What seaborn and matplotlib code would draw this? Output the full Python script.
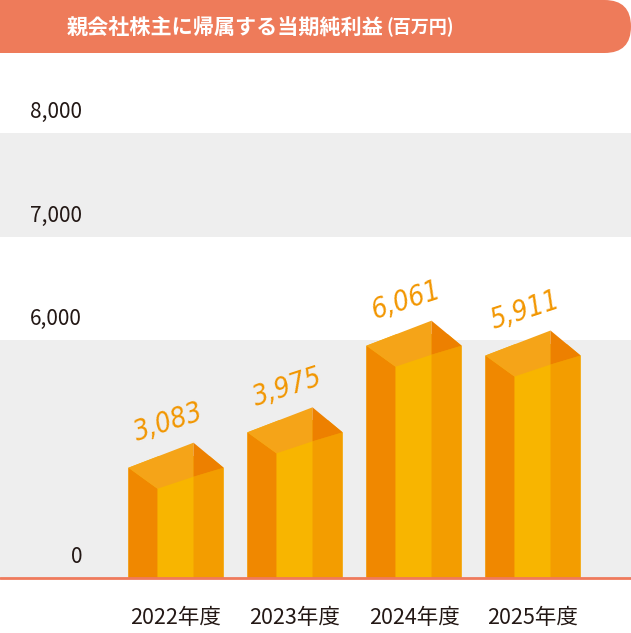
import numpy as np
import pandas as pd
import seaborn as sns
import matplotlib
matplotlib.use("Agg")
import matplotlib.pyplot as plt
from matplotlib.patches import Polygon, FancyBboxPatch

# ---- data ----
years = ["2022年度", "2023年度", "2024年度", "2025年度"]
profits = [3083, 3975, 6061, 5911]
value_labels = ["3,083", "3,975", "6,061", "5,911"]
tick_values = [0, 6000, 7000, 8000]
tick_labels = ["0", "6,000", "7,000", "8,000"]
title_main = "親会社株主に帰属する当期純利益"
title_unit = "(百万円)"

df = pd.DataFrame({"year": years, "profit": profits})

sns.set_theme(style="white")
plt.rcParams["font.family"] = ["Noto Sans CJK JP", "DejaVu Sans"]

W, H = 631, 633
fig = plt.figure(figsize=(W / 100, H / 100), dpi=100)
fig.patch.set_facecolor("white")
base_px, top_px = 578, 60
ax = fig.add_axes([0, (H - base_px) / H, 1, (base_px - top_px) / H])
ax.set_facecolor("white")

# broken (piecewise) value scale: compressed 0-6000, expanded above
LOW_PX, UP_PX = 238.0, 0.1035


def fwd(v):
    v = np.asarray(v, float)
    return np.where(v <= 6000, v * LOW_PX / 6000, LOW_PX + (v - 6000) * UP_PX)


def inv(p):
    p = np.asarray(p, float)
    return np.where(p <= LOW_PX, p * 6000 / LOW_PX, 6000 + (p - LOW_PX) / UP_PX)


ax.set_yscale("function", functions=(fwd, inv))

MID = "#F8B500"
LEFT = "#F08800"
RIGHT = "#F39D00"
TOPL = "#F5A418"
TOPR = "#ED8000"
GRAY = "#EEEEEE"
RED = "#EF7A5C"
TXT = "#231815"
ORANGE = "#F29600"

sns.barplot(data=df, x="year", y="profit", color=MID, saturation=1,
            width=0.8, ax=ax, zorder=2, linewidth=0)
bars = list(ax.patches)

ax.set_xlim(-176 / 119, (631 - 176) / 119)
ax.set_ylim(0, float(inv(base_px - top_px)))

ax.axhspan(7000, 8000, color=GRAY, zorder=0, lw=0)
ax.axhspan(0, 6000, color=GRAY, zorder=0, lw=0)

for s in ax.spines.values():
    s.set_visible(False)
ax.set_yticks([])
ax.set_xlabel("")
ax.set_ylabel("")
ax.tick_params(axis="x", length=0, pad=21, labelsize=15.5, labelcolor=TXT)

ax.axhline(0, color=RED, lw=2, clip_on=False, zorder=6)

# 3D box faces derived from each bar (value sits mid-way up the top face)
fig.canvas.draw()
tdata = ax.transData
tinv = tdata.inverted()
for rect in bars:
    x0, w, v = rect.get_x(), rect.get_width(), rect.get_height()
    (px0, pv) = tdata.transform((x0, v))
    (px1, _) = tdata.transform((x0 + w, v))
    (_, pb) = tdata.transform((x0, 0))
    pyc = pv - 12
    ww = px1 - px0
    xf = px0 + 0.305 * ww
    xb = px0 + 0.684 * ww
    sil = Polygon(tinv.transform(np.array(
        [(px0, pb), (px0, pyc), (xb, pyc + 25), (px1, pyc), (px1, pb)])),
        closed=True, transform=tdata)
    rect.set_clip_path(sil)
    faces = [
        ([(px0, pb), (px0, pyc), (xf, pyc - 21), (xf, pb)], LEFT),
        ([(xb, pb), (xb, pyc - 9), (px1, pyc), (px1, pb)], RIGHT),
        ([(px0, pyc), (xb, pyc + 25), (xb, pyc - 9), (xf, pyc - 21)], TOPL),
        ([(xb, pyc + 25), (px1, pyc), (xb, pyc - 9)], TOPR),
    ]
    for pts, col in faces:
        dpts = tinv.transform(np.array(pts))
        ax.add_patch(Polygon(dpts, closed=True, facecolor=col, edgecolor="none",
                             zorder=3))

for i, (v, lab) in enumerate(zip(profits, value_labels)):
    ax.annotate(lab, xy=(i, v), xytext=(-8, 33), textcoords="offset pixels",
                ha="center", va="center", rotation=18, fontstyle="oblique",
                fontstretch="condensed",
                family=["DejaVu Sans"], fontsize=20,
                color=ORANGE, zorder=7)

ytrans = ax.get_yaxis_transform()
for v, lab in zip(tick_values, tick_labels):
    ax.annotate(lab, xy=(0, v), xycoords=ytrans, xytext=(82, 21),
                textcoords="offset pixels", ha="right", va="center",
                fontsize=15, color=TXT)

# title banner
banner = FancyBboxPatch((-60 / W, (H - 53) / H), (W + 60) / W, 53 / H,
                        boxstyle="round,pad=0,rounding_size=%f" % (26.5 / H),
                        transform=fig.transFigure, facecolor="#EE7B5A",
                        edgecolor="none", clip_on=False)
fig.patches.append(banner)
fig.text(384 / W, (H - 27) / H, title_main, ha="right", va="center",
         color="white", fontsize=15.2, fontweight="bold")
fig.text(387 / W, (H - 27) / H, title_unit, ha="left", va="center",
         color="white", fontsize=13, fontweight="bold")

fig.savefig("out.png", dpi=100)
